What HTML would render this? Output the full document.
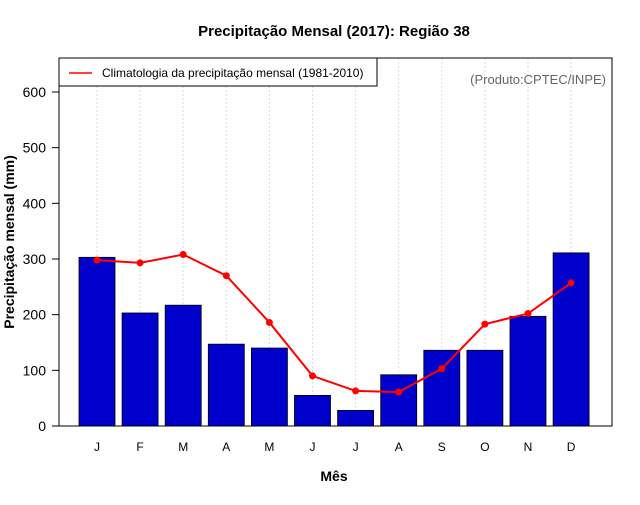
<!DOCTYPE html>
<html><head><meta charset="utf-8"><style>
body{margin:0;background:#fff;}
svg text{font-family:"Liberation Sans",sans-serif;}
</style></head><body>
<svg id="c" width="640" height="500">
<text x="334" y="36" text-anchor="middle" font-size="15" font-weight="bold">Precipitação Mensal (2017): Região 38</text>
<text x="334" y="481" text-anchor="middle" font-size="14" font-weight="bold">Mês</text>
<text transform="translate(14,242) rotate(-90)" text-anchor="middle" font-size="14" font-weight="bold">Precipitação mensal (mm)</text>
<g id="grid"></g><g id="bars"></g><g id="line"></g><g id="axes"></g>
<rect x="59" y="58" width="553" height="368" fill="none" stroke="#000"/>
<g>
<rect x="59" y="58" width="318" height="28" fill="#fff" stroke="#000"/>
<line x1="69" y1="73" x2="92" y2="73" stroke="#f00" stroke-width="1.5"/>
<text x="102" y="77" font-size="12">Climatologia da precipitação mensal (1981-2010)</text>
</g>
<text x="606" y="84" text-anchor="end" font-size="13" fill="#666">(Produto:CPTEC/INPE)</text>
</svg>
<script>
const months=["J","F","M","A","M","J","J","A","S","O","N","D"];
const observed=[303,203,217,147,140,55,28,92,136,136,197,311];
const climatology=[298,293,308,270,186,90,63,61,103,183,202,257];
const yTicks=[0,100,200,300,400,500,600];
const NS="http://www.w3.org/2000/svg";
const x=i=>97+i*43.1;
const y=v=>426-v*0.5567;
function mk(t,a,p){const e=document.createElementNS(NS,t);for(const k in a)e.setAttribute(k,a[k]);document.getElementById(p).appendChild(e);return e;}
months.forEach((m,i)=>{
 const g=mk("line",{x1:x(i),x2:x(i),y1:58,y2:426,stroke:"#ddd","stroke-dasharray":"2,2"},"grid");
 
 
 const b=mk("rect",{x:x(i)-18,y:y(observed[i]),width:36,height:426-y(observed[i]),fill:"#0000cd",stroke:"#000","stroke-width":0.8},"bars");
 
 
 const t=mk("text",{x:x(i),y:451,"text-anchor":"middle","font-size":12},"axes");
 t.textContent=m;
 
 
});
const pl=mk("polyline",{points:climatology.map((v,i)=>x(i)+","+y(v)).join(" "),fill:"none",stroke:"#f00","stroke-width":2},"line");


climatology.forEach((v,i)=>{
 const c=mk("circle",{cx:x(i),cy:y(v),r:3.5,fill:"#f00"},"line");
 
 
});
yTicks.forEach(v=>{
 const l=mk("line",{x1:52,x2:59,y1:y(v),y2:y(v),stroke:"#000"},"axes");
 
 
 const t=mk("text",{x:46,y:y(v)+5,"text-anchor":"end","font-size":14},"axes");
 t.textContent=v;
 
 
});
</script>
</body></html>
